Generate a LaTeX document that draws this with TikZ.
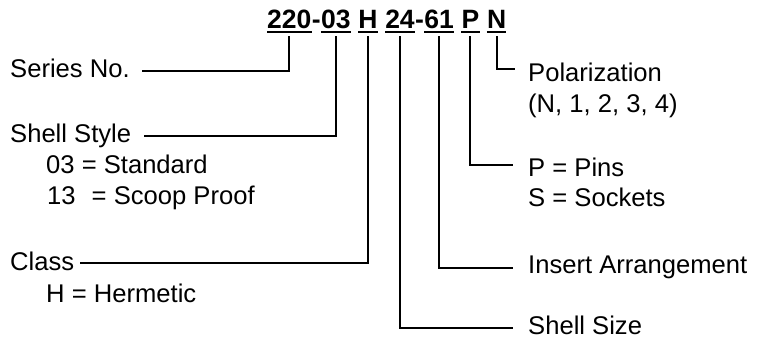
\documentclass[tikz,border=0pt]{standalone}
\usepackage{fontspec}
\setmainfont{Liberation Sans}
\begin{document}
\begin{tikzpicture}[x=1pt,y=-1pt,
  lbl/.style={font=\fontsize{25.6}{30}\selectfont, inner sep=0pt, anchor=base west},
  ttl/.style={font=\fontsize{26.5}{30}\selectfont\bfseries, inner sep=0pt, anchor=base west},
  conn/.style={line width=2pt, line cap=butt, line join=miter},
  ul/.style={line width=2pt}]
\useasboundingbox (0,0) rectangle (757,341);
% title code
\node[ttl] (g1) at (267,28) {220};
\node[ttl] (d1) at (g1.base east) {-};
\node[ttl] (g2) at (d1.base east) {03};
\node[ttl] (g3) at ([xshift=7.4pt]g2.base east) {H};
\node[ttl] (g4) at ([xshift=7.4pt]g3.base east) {24};
\node[ttl] (d2) at (g4.base east) {-};
\node[ttl] (g5) at (d2.base east) {61};
\node[ttl] (g6) at ([xshift=7.4pt]g5.base east) {P};
\node[ttl] (g7) at ([xshift=7.4pt]g6.base east) {N};
\foreach \g in {g1,g2,g3,g4,g5,g6,g7}
  \draw[ul] ([yshift=-4pt]\g.base west) -- ([yshift=-4pt]\g.base east);
% left labels
\node[lbl] (series) at (10,77) {Series No.};
\node[lbl] (style) at (10,142) {Shell Style};
\node[lbl] (std) at (46,173) {03 = Standard};
\node[lbl] (scoop) at (47,204) {13\hspace{0.35em} = Scoop Proof};
\node[lbl] (class) at (10,270) {Class};
\node[lbl] (herm) at (46,302) {H = Hermetic};
% right labels
\node[lbl] (pol) at (528,81) {Polarization};
\node[lbl] (polv) at (528,112) {(N, 1, 2, 3, 4)};
\node[lbl] (pins) at (528,176) {P = Pins};
\node[lbl] (sock) at (528,206) {S = Sockets};
\node[lbl] (ins) at (528,273) {Insert Arrangement};
\node[lbl] (size) at (528,334) {Shell Size};
% connector ends
\coordinate (cSeries) at (142,71);
\coordinate (cStyle) at (144,136);
\coordinate (cClass) at (80,263);
\coordinate (cPol) at (515,69);
\coordinate (cPins) at (513,165);
\coordinate (cIns) at (513,268);
\coordinate (cSize) at (513,328);
% connectors
\draw[conn] ([yshift=-8pt]g1.base) |- (cSeries);
\draw[conn] ([yshift=-8pt]g2.base) |- (cStyle);
\draw[conn] ([yshift=-8pt]g3.base) |- (cClass);
\draw[conn] ([yshift=-8pt]g4.base) |- (cSize);
\draw[conn] ([yshift=-8pt]g5.base) |- (cIns);
\draw[conn] ([yshift=-8pt]g6.base) |- (cPins);
\draw[conn] ([yshift=-8pt]g7.base) |- (cPol);
\end{tikzpicture}
\end{document}
